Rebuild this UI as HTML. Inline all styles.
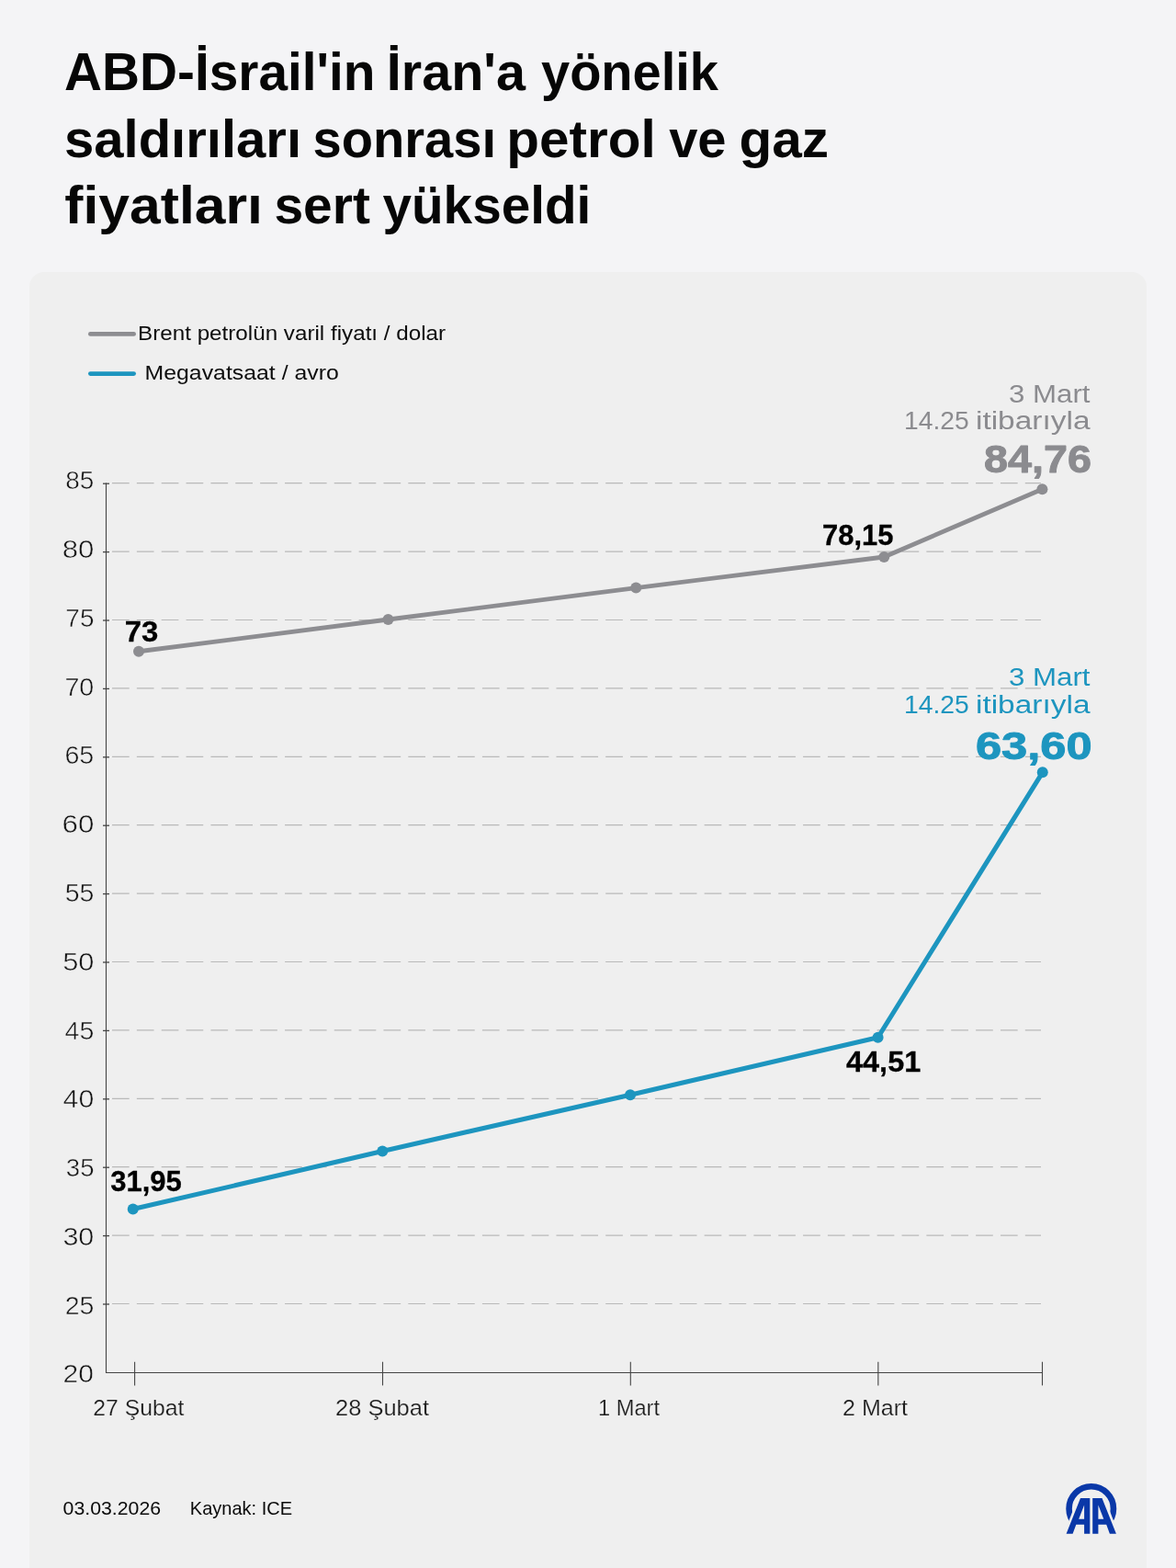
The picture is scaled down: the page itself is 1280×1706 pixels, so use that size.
<!DOCTYPE html>
<html lang="tr">
<head>
<meta charset="utf-8">
<title>ABD-İsrail'in İran'a yönelik saldırıları sonrası petrol ve gaz fiyatları sert yükseldi</title>
<style>
html,body{margin:0;padding:0;}
html{width:1280px;height:1706px;overflow:hidden;background:#f4f4f6;}
body{width:1280px;height:1706px;overflow:hidden;background:#f4f4f6;position:relative;font-family:"Liberation Sans",sans-serif;}
.card{position:absolute;left:32px;top:296px;width:1216px;height:1410px;background:#efefef;border-radius:16px 16px 0 0;}
svg{position:absolute;left:0;top:0;}
text{font-family:"Liberation Sans",sans-serif;font-variant-ligatures:none;font-feature-settings:"liga" 0,"clig" 0;white-space:pre;}
.ttl{font-weight:700;font-size:56.5px;fill:#060606;}
.leg{font-size:22.3px;fill:#0c0c0c;}
.yl{font-size:27.1px;fill:#141414;stroke:#efefef;stroke-width:0.5px;paint-order:fill stroke;}
.xl{font-size:24.3px;fill:#1c1c1c;stroke:#efefef;stroke-width:0.2px;paint-order:fill stroke;}
.dl{font-size:31.8px;font-weight:700;fill:#000;stroke:#000;stroke-width:0.3px;}
.nt{font-size:28.2px;}
.big{font-size:41.6px;font-weight:700;stroke-width:0.9px;stroke-linejoin:round;}
.ft{font-size:20.6px;fill:#0a0a0a;}
.cg{fill:#8b8b8f;stroke:#8b8b8f;}
.cb{fill:#1d95bf;stroke:#1d95bf;}
.nt.cg,.nt.cb{stroke:none;}
</style>
</head>
<body>
<div class="card"></div>
<svg width="1280" height="1706" viewBox="0 0 1280 1706" role="img" aria-label="Brent petrol ve doğal gaz fiyat grafiği">

<text id="t1" class="ttl" y="97.5"><tspan id="t1_0" x="69.97" textLength="338.58" lengthAdjust="spacingAndGlyphs">ABD-İsrail'in</tspan> <tspan id="t1_1" x="420.89" textLength="151.09" lengthAdjust="spacingAndGlyphs">İran'a</tspan> <tspan id="t1_2" x="588.99" textLength="193.01" lengthAdjust="spacingAndGlyphs">yönelik</tspan></text>
<text id="t2" class="ttl" y="170.5"><tspan id="t2_0" x="69.95" textLength="258.15" lengthAdjust="spacingAndGlyphs">saldırıları</tspan> <tspan id="t2_1" x="340.53" textLength="199.53" lengthAdjust="spacingAndGlyphs">sonrası</tspan> <tspan id="t2_2" x="551.26" textLength="162.38" lengthAdjust="spacingAndGlyphs">petrol</tspan> <tspan id="t2_3" x="728.17" textLength="62.41" lengthAdjust="spacingAndGlyphs">ve</tspan> <tspan id="t2_4" x="804.41" textLength="97.60" lengthAdjust="spacingAndGlyphs">gaz</tspan></text>
<text id="t3" class="ttl" y="243.0"><tspan id="t3_0" x="70.26" textLength="215.61" lengthAdjust="spacingAndGlyphs">fiyatları</tspan> <tspan id="t3_1" x="298.45" textLength="104.43" lengthAdjust="spacingAndGlyphs">sert</tspan> <tspan id="t3_2" x="416.49" textLength="226.81" lengthAdjust="spacingAndGlyphs">yükseldi</tspan></text>

<line x1="98.4" y1="363.4" x2="145.6" y2="363.4" stroke="#8d8d91" stroke-width="4.8" stroke-linecap="round"/>
<line x1="98.4" y1="406.6" x2="145.6" y2="406.6" stroke="#1d95bf" stroke-width="4.8" stroke-linecap="round"/>
<text id="lg1" class="leg" y="370.3"><tspan id="lg1_0" x="150.08" textLength="335.03" lengthAdjust="spacingAndGlyphs">Brent petrolün varil fiyatı / dolar</tspan></text>
<text id="lg2" class="leg" y="413.4"><tspan id="lg2_0" x="157.50" textLength="211.33" lengthAdjust="spacingAndGlyphs">Megavatsaat / avro</tspan></text>

<g stroke="#b9b9b9" stroke-width="1.2" stroke-dasharray="18.7 8.16" fill="none">
<line x1="122" y1="1418.5" x2="1133" y2="1418.5"/>
<line x1="122" y1="1344.1" x2="1133" y2="1344.1"/>
<line x1="122" y1="1269.7" x2="1133" y2="1269.7"/>
<line x1="122" y1="1195.3" x2="1133" y2="1195.3"/>
<line x1="122" y1="1120.9" x2="1133" y2="1120.9"/>
<line x1="122" y1="1046.5" x2="1133" y2="1046.5"/>
<line x1="122" y1="972.1" x2="1133" y2="972.1"/>
<line x1="122" y1="897.7" x2="1133" y2="897.7"/>
<line x1="122" y1="823.3" x2="1133" y2="823.3"/>
<line x1="122" y1="748.9" x2="1133" y2="748.9"/>
<line x1="122" y1="674.5" x2="1133" y2="674.5"/>
<line x1="122" y1="600.1" x2="1133" y2="600.1"/>
<line x1="122" y1="525.7" x2="1133" y2="525.7"/>
</g>
<g stroke="#454545" stroke-width="1.1" fill="none">
<line x1="115.5" y1="525.6" x2="115.5" y2="1494"/>
<line x1="115" y1="1493.5" x2="1134.5" y2="1493.5"/>
<line x1="112" y1="1419.0" x2="119" y2="1419.0" stroke-width="1.3"/>
<line x1="112" y1="1344.6" x2="119" y2="1344.6" stroke-width="1.3"/>
<line x1="112" y1="1270.2" x2="119" y2="1270.2" stroke-width="1.3"/>
<line x1="112" y1="1195.8" x2="119" y2="1195.8" stroke-width="1.3"/>
<line x1="112" y1="1121.4" x2="119" y2="1121.4" stroke-width="1.3"/>
<line x1="112" y1="1047.0" x2="119" y2="1047.0" stroke-width="1.3"/>
<line x1="112" y1="972.6" x2="119" y2="972.6" stroke-width="1.3"/>
<line x1="112" y1="898.2" x2="119" y2="898.2" stroke-width="1.3"/>
<line x1="112" y1="823.8" x2="119" y2="823.8" stroke-width="1.3"/>
<line x1="112" y1="749.4" x2="119" y2="749.4" stroke-width="1.3"/>
<line x1="112" y1="675.0" x2="119" y2="675.0" stroke-width="1.3"/>
<line x1="112" y1="600.6" x2="119" y2="600.6" stroke-width="1.3"/>
<line x1="112" y1="526.2" x2="119" y2="526.2" stroke-width="1.3"/>
<line x1="146.6" y1="1481.7" x2="146.6" y2="1507.4"/>
<line x1="416.5" y1="1481.7" x2="416.5" y2="1507.4"/>
<line x1="686.3" y1="1481.7" x2="686.3" y2="1507.4"/>
<line x1="955.85" y1="1481.7" x2="955.85" y2="1507.4"/>
<line x1="1134.5" y1="1481.7" x2="1134.5" y2="1507.4"/>
</g>

<text id="y85" class="yl" y="532.3"><tspan id="y85_0" x="71.34" textLength="31.02" lengthAdjust="spacingAndGlyphs">85</tspan></text>
<text id="y80" class="yl" y="607.0"><tspan id="y80_0" x="67.75" textLength="34.66" lengthAdjust="spacingAndGlyphs">80</tspan></text>
<text id="y75" class="yl" y="681.8"><tspan id="y75_0" x="71.39" textLength="31.05" lengthAdjust="spacingAndGlyphs">75</tspan></text>
<text id="y70" class="yl" y="756.6"><tspan id="y70_0" x="70.41" textLength="31.91" lengthAdjust="spacingAndGlyphs">70</tspan></text>
<text id="y65" class="yl" y="831.4"><tspan id="y65_0" x="70.40" textLength="31.91" lengthAdjust="spacingAndGlyphs">65</tspan></text>
<text id="y60" class="yl" y="906.2"><tspan id="y60_0" x="67.53" textLength="34.84" lengthAdjust="spacingAndGlyphs">60</tspan></text>
<text id="y55" class="yl" y="980.9"><tspan id="y55_0" x="70.77" textLength="31.69" lengthAdjust="spacingAndGlyphs">55</tspan></text>
<text id="y50" class="yl" y="1055.7"><tspan id="y50_0" x="68.20" textLength="34.26" lengthAdjust="spacingAndGlyphs">50</tspan></text>
<text id="y45" class="yl" y="1130.5"><tspan id="y45_0" x="70.56" textLength="31.77" lengthAdjust="spacingAndGlyphs">45</tspan></text>
<text id="y40" class="yl" y="1205.3"><tspan id="y40_0" x="68.62" textLength="33.68" lengthAdjust="spacingAndGlyphs">40</tspan></text>
<text id="y35" class="yl" y="1280.1"><tspan id="y35_0" x="71.84" textLength="30.60" lengthAdjust="spacingAndGlyphs">35</tspan></text>
<text id="y30" class="yl" y="1354.8"><tspan id="y30_0" x="68.42" textLength="33.93" lengthAdjust="spacingAndGlyphs">30</tspan></text>
<text id="y25" class="yl" y="1429.6"><tspan id="y25_0" x="70.77" textLength="31.69" lengthAdjust="spacingAndGlyphs">25</tspan></text>
<text id="y20" class="yl" y="1504.4"><tspan id="y20_0" x="68.64" textLength="33.40" lengthAdjust="spacingAndGlyphs">20</tspan></text>
<text id="x1" class="xl" y="1540.4"><tspan id="x1_0" x="101.25" textLength="99.13" lengthAdjust="spacingAndGlyphs">27 Şubat</tspan></text>
<text id="x2" class="xl" y="1540.4"><tspan id="x2_0" x="364.99" textLength="102.01" lengthAdjust="spacingAndGlyphs">28 Şubat</tspan></text>
<text id="x3" class="xl" y="1540.4"><tspan id="x3_0" x="650.94" textLength="67.06" lengthAdjust="spacingAndGlyphs">1 Mart</tspan></text>
<text id="x4" class="xl" y="1540.4"><tspan id="x4_0" x="916.99" textLength="71.01" lengthAdjust="spacingAndGlyphs">2 Mart</tspan></text>

<polyline points="151,708.75 422.5,674 692.25,639.6 962.25,606 1134.4,532.2" fill="none" stroke="#8d8d91" stroke-width="4.8" stroke-linejoin="round" stroke-linecap="round"/>
<circle cx="151" cy="708.75" r="6" fill="#8d8d91"/>
<circle cx="422.5" cy="674" r="6" fill="#8d8d91"/>
<circle cx="692.25" cy="639.6" r="6" fill="#8d8d91"/>
<circle cx="962.25" cy="606" r="6" fill="#8d8d91"/>
<circle cx="1134.4" cy="532.2" r="6" fill="#8d8d91"/>
<polyline points="144.75,1315.6 416.25,1252.5 686,1191.25 955.6,1128.75 1134.75,840.3" fill="none" stroke="#1d95bf" stroke-width="5.1" stroke-linejoin="round" stroke-linecap="round"/>
<circle cx="144.75" cy="1315.6" r="6" fill="#1d95bf"/>
<circle cx="416.25" cy="1252.5" r="6" fill="#1d95bf"/>
<circle cx="686" cy="1191.25" r="6" fill="#1d95bf"/>
<circle cx="955.6" cy="1128.75" r="6" fill="#1d95bf"/>
<circle cx="1134.75" cy="840.3" r="6" fill="#1d95bf"/>

<text id="d1" class="dl" y="697.75"><tspan id="d1_0" x="135.79" textLength="36.61" lengthAdjust="spacingAndGlyphs">73</tspan></text>
<text id="d2" class="dl" y="593.1"><tspan id="d2_0" x="895.07" textLength="77.48" lengthAdjust="spacingAndGlyphs">78,15</tspan></text>
<text id="d3" class="dl" y="1295.6"><tspan id="d3_0" x="120.14" textLength="77.73" lengthAdjust="spacingAndGlyphs">31,95</tspan></text>
<text id="d4" class="dl" y="1166.0"><tspan id="d4_0" x="921.00" textLength="81.27" lengthAdjust="spacingAndGlyphs">44,51</tspan></text>
<text id="n1" class="nt cg" y="437.5"><tspan id="n1_0" x="1098.05" textLength="88.49" lengthAdjust="spacingAndGlyphs">3 Mart</tspan></text>
<text id="n2" class="nt cg" y="466.6"><tspan id="n2_0" x="984.03" textLength="70.79" lengthAdjust="spacingAndGlyphs">14.25</tspan> <tspan id="n2_1" x="1061.97" textLength="124.54" lengthAdjust="spacingAndGlyphs">itibarıyla</tspan></text>
<text id="n3" class="big cg" y="514.4"><tspan id="n3_0" x="1071.02" textLength="117.10" lengthAdjust="spacingAndGlyphs">84,76</tspan></text>
<text id="n4" class="nt cb" y="746.0"><tspan id="n4_0" x="1098.05" textLength="88.49" lengthAdjust="spacingAndGlyphs">3 Mart</tspan></text>
<text id="n5" class="nt cb" y="776.0"><tspan id="n5_0" x="984.03" textLength="70.79" lengthAdjust="spacingAndGlyphs">14.25</tspan> <tspan id="n5_1" x="1061.97" textLength="124.54" lengthAdjust="spacingAndGlyphs">itibarıyla</tspan></text>
<text id="n6" class="big cb" y="825.9"><tspan id="n6_0" x="1061.93" textLength="126.70" lengthAdjust="spacingAndGlyphs">63,60</tspan></text>
<text id="f1" class="ft" y="1647.7"><tspan id="f1_0" x="68.56" textLength="106.54" lengthAdjust="spacingAndGlyphs">03.03.2026</tspan></text>
<text id="f2" class="ft" y="1647.7"><tspan id="f2_0" x="206.79" textLength="111.39" lengthAdjust="spacingAndGlyphs">Kaynak: ICE</tspan></text>

<g id="logo" transform="translate(1120,1600)">
<circle cx="67.75" cy="41.5" r="24.2" fill="none" stroke="#0a38a8" stroke-width="6.6"/>
<polygon points="53.2,29 36.5,73 99,73 82.3,29" fill="#efefef"/>
<g fill="#0a38a8" fill-rule="evenodd">
<path d="M56,30 L66.3,30 L66.3,68.75 L60.1,68.75 L60.1,58.8 L51.3,58.8 L47.6,68.75 L40.6,68.75 Z M60.1,37.5 L60.1,52.8 L54.2,52.8 Z"/>
<path d="M79.5,30 L69.2,30 L69.2,68.75 L75.4,68.75 L75.4,58.8 L84.2,58.8 L87.9,68.75 L94.9,68.75 Z M75.4,37.5 L75.4,52.8 L81.3,52.8 Z"/>
</g>
</g>
</svg>
</body>
</html>
